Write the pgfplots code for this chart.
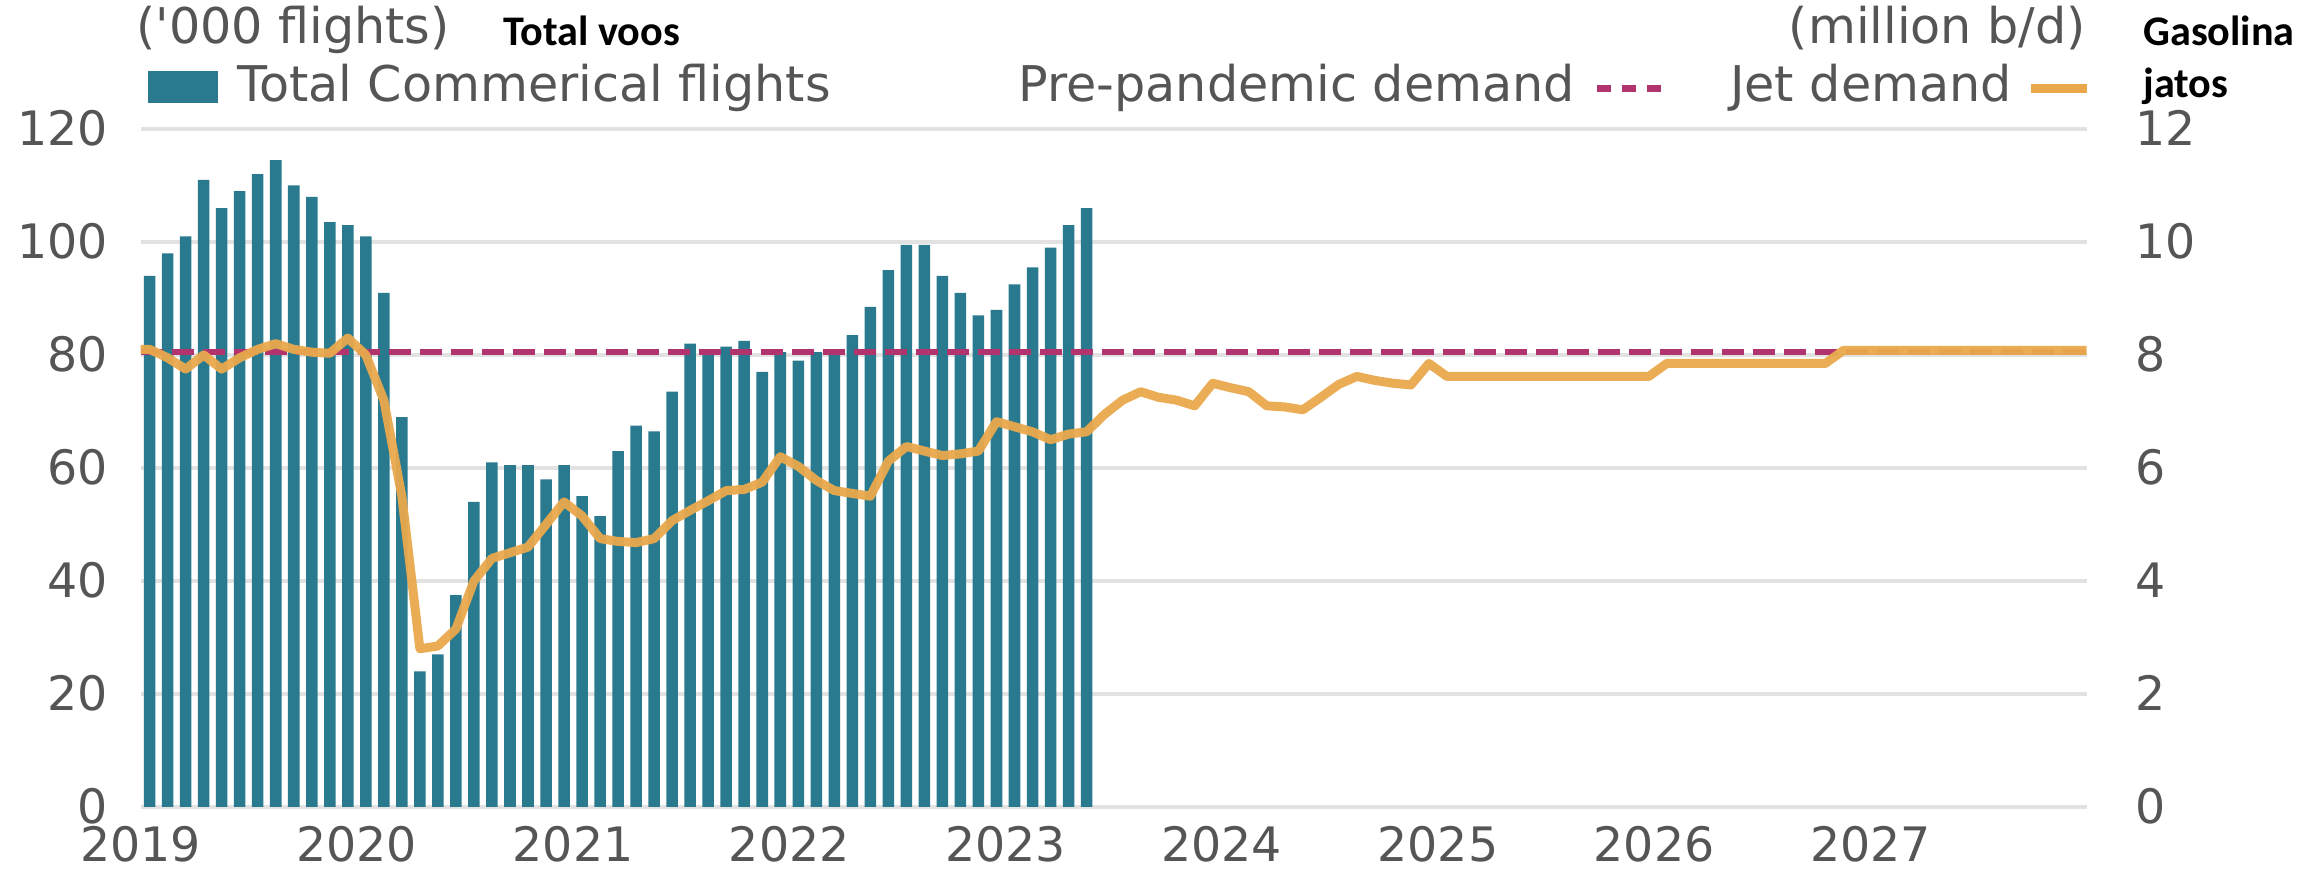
\documentclass[border=0pt]{standalone}
\usepackage{pgfplots}
\pgfplotsset{compat=1.18}
\usepackage{fontspec}
\setmainfont{DejaVu Sans}
\newfontfamily\annot{Carlito}
\definecolor{barc}{RGB}{42,122,143}
\definecolor{jet}{RGB}{233,168,76}
\definecolor{pre}{RGB}{178,52,110}
\definecolor{txt}{RGB}{85,85,85}
\definecolor{gridc}{RGB}{226,226,226}
\begin{document}
\begin{tikzpicture}[font=\fontsize{14}{16}\selectfont]
\useasboundingbox (-1.406,-0.66) rectangle (21.804,8.07);
\begin{axis}[
  at={(0,0)}, anchor=south west,
  scale only axis, width=19.46cm, height=6.78cm,
  xmin=0, xmax=108, ymin=0, ymax=120,
  enlargelimits=false,
  xtick={0,12,24,36,48,60,72,84,96},
  xticklabels={2019,2020,2021,2022,2023,2024,2025,2026,2027},
  ytick={0,20,40,60,80,100,120},
  ymajorgrids, grid style={gridc, line width=0.9pt},
  axis line style={draw=none}, major tick length=0pt,
  tick label style={text=txt, font=\fontsize{13.5}{15}\selectfont},
  yticklabel style={anchor=east, inner sep=0pt, xshift=-0.32cm, text depth=0pt, text height=0.34cm},
  xticklabel style={anchor=north, inner sep=0pt, yshift=-0.2cm, text depth=0pt, text height=0.34cm},
  /pgf/number format/assume math mode=true,
  bar width=0.64,
]
\addplot[ybar, fill=barc, draw=none] coordinates {
(0.5,94) (1.5,98) (2.5,101) (3.5,111) (4.5,106) (5.5,109) (6.5,112) (7.5,114.5)
(8.5,110) (9.5,108) (10.5,103.5) (11.5,103) (12.5,101) (13.5,91) (14.5,69) (15.5,24)
(16.5,27) (17.5,37.5) (18.5,54) (19.5,61) (20.5,60.5) (21.5,60.5) (22.5,58) (23.5,60.5)
(24.5,55) (25.5,51.5) (26.5,63) (27.5,67.5) (28.5,66.5) (29.5,73.5) (30.5,82) (31.5,81)
(32.5,81.5) (33.5,82.5) (34.5,77) (35.5,80.5) (36.5,79) (37.5,80.5) (38.5,80.5) (39.5,83.5)
(40.5,88.5) (41.5,95) (42.5,99.5) (43.5,99.5) (44.5,94) (45.5,91) (46.5,87) (47.5,88)
(48.5,92.5) (49.5,95.5) (50.5,99) (51.5,103) (52.5,106)
};
\end{axis}
\begin{axis}[
  at={(0,0)}, anchor=south west,
  scale only axis, width=19.46cm, height=6.78cm,
  xmin=0, xmax=108, ymin=0, ymax=12,
  enlargelimits=false,
  hide x axis,
  ytick={0,2,4,6,8,10,12},
  yticklabel pos=right,
  axis line style={draw=none}, major tick length=0pt,
  tick label style={text=txt, font=\fontsize{13.5}{15}\selectfont},
  yticklabel style={anchor=west, inner sep=0pt, xshift=0.48cm, text depth=0pt, text height=0.34cm},
  /pgf/number format/assume math mode=true,
]
\addplot[pre, line width=0.065cm, dash pattern=on 0.22cm off 0.09cm] coordinates {(0,8.05) (108,8.05)};
\addplot[jet, line width=0.09cm, line join=round, opacity=0.95] coordinates {
(0,8.1) (0.5,8.1) (1.5,7.95) (2.5,7.75) (3.5,8.0) (4.5,7.75) (5.5,7.95) (6.5,8.1) (7.5,8.2)
(8.5,8.1) (9.5,8.05) (10.5,8.03) (11.5,8.3) (12.5,8.0) (13.5,7.2) (14.5,5.5) (15.5,2.8)
(16.5,2.85) (17.5,3.15) (18.5,4.0) (19.5,4.4) (20.5,4.5) (21.5,4.6) (22.5,5.0) (23.5,5.4)
(24.5,5.15) (25.5,4.75) (26.5,4.7) (27.5,4.68) (28.5,4.75) (29.5,5.07) (30.5,5.25) (31.5,5.42)
(32.5,5.6) (33.5,5.62) (34.5,5.75) (35.5,6.2) (36.5,6.03) (37.5,5.78) (38.5,5.6) (39.5,5.55)
(40.5,5.5) (41.5,6.12) (42.5,6.38) (43.5,6.3) (44.5,6.22) (45.5,6.25) (46.5,6.3) (47.5,6.82)
(48.5,6.73) (49.5,6.64) (50.5,6.5) (51.5,6.6) (52.5,6.64) (53.5,6.95) (54.5,7.2) (55.5,7.35)
(56.5,7.25) (57.5,7.2) (58.5,7.1) (59.5,7.5) (60.5,7.42) (61.5,7.35) (62.5,7.1) (63.5,7.08)
(64.5,7.03) (65.5,7.25) (66.5,7.48) (67.5,7.62) (68.5,7.55) (69.5,7.5) (70.5,7.47) (71.5,7.85)
(72.5,7.62) (83.7,7.62) (84.7,7.85) (93.5,7.85) (94.5,8.08) (108,8.08)
};
\end{axis}
% header and legend
\node[anchor=base west, text=txt, inner sep=0pt] at (-0.05,7.63) {(\textquotesingle000 flights)};
\node[anchor=base west, inner sep=0pt, font=\annot\bfseries\fontsize{12}{14}\selectfont] at (3.62,7.61) {Total voos};
\fill[barc] (0.07,7.04) rectangle (0.77,7.36);
\node[anchor=base west, text=txt, inner sep=0pt] at (0.96,7.05) {Total Commerical flights};
\node[anchor=base east, text=txt, inner sep=0pt] at (14.35,7.05) {Pre-pandemic demand};
\draw[pre, line width=0.07cm, dash pattern=on 0.14cm off 0.11cm] (14.56,7.18) -- (15.20,7.18);
\node[anchor=base east, text=txt, inner sep=0pt] at (18.72,7.05) {Jet demand};
\draw[jet, line width=0.09cm] (18.90,7.18) -- (19.46,7.18);
\node[anchor=base east, text=txt, inner sep=0pt] at (19.46,7.63) {(million b/d)};
\node[anchor=base west, inner sep=0pt, font=\annot\bfseries\fontsize{12}{14}\selectfont] at (20.02,7.61) {Gasolina};
\node[anchor=base west, inner sep=0pt, font=\annot\bfseries\fontsize{12}{14}\selectfont] at (20.02,7.09) {jatos};
\end{tikzpicture}
\end{document}
